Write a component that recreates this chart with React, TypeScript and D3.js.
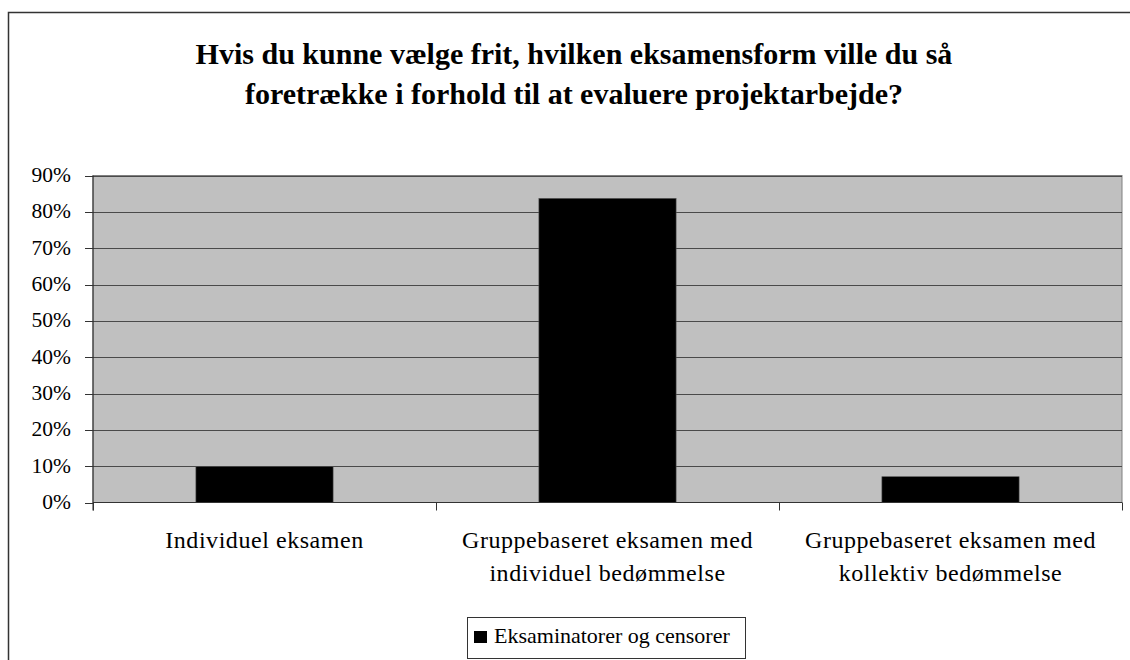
import React from "react";
import * as d3 from "d3";

const titleLines = [
  "Hvis du kunne vælge frit, hvilken eksamensform ville du så",
  "foretrække i forhold til at evaluere projektarbejde?",
];
const categories = [
  ["Individuel eksamen"],
  ["Gruppebaseret eksamen med", "individuel bedømmelse"],
  ["Gruppebaseret eksamen med", "kollektiv bedømmelse"],
];
const values = [0.099, 0.837, 0.071];
const yTicks = [0, 0.1, 0.2, 0.3, 0.4, 0.5, 0.6, 0.7, 0.8, 0.9];
const seriesName = "Eksaminatorer og censorer";

const FONT = "Liberation Serif, Tinos, Times New Roman, Times, DejaVu Serif, serif";

export default function App() {
  const W = 1130, H = 660;
  const left = 93, right = 1122, top = 175.5, bottom = 502.5;
  const x = d3.scaleBand<number>().domain(d3.range(categories.length)).range([left, right]).padding(0);
  const y = d3.scaleLinear().domain([0, 0.9]).range([bottom, top]);
  const bw = x.bandwidth() * 0.4;
  const fmt = d3.format(".0%");
  return (
    <svg width={W} height={H} style={{ position: "absolute", left: 0, top: 0, fontFamily: FONT }}>
      <rect x={0} y={0} width={W} height={H} fill="#fff" />
      <path d={`M8.5,${H} V12.5 H${W}`} fill="none" stroke="#333" strokeWidth={1.5} />
      {titleLines.map((t, i) => (
        <text key={i} x={574} y={64 + i * 40} textAnchor="middle" style={{ fontFamily: FONT }} fontWeight="bold" fontSize={30}>
          {t}
        </text>
      ))}
      <rect x={left} y={top} width={right - left} height={bottom - top} fill="#c0c0c0" stroke="#808080" strokeWidth={1} />
      {yTicks.slice(1).map((t) => (
        <line key={t} x1={left} x2={right} y1={Math.round(y(t)) + 0.5} y2={Math.round(y(t)) + 0.5} stroke="#4a4a4a" strokeWidth={1} />
      ))}
      {values.map((v, i) => (
        <rect key={i} x={x(i)! + (x.bandwidth() - bw) / 2} y={y(v)} width={bw} height={bottom - y(v)} fill="#000" stroke="#555" strokeWidth={0.6} />
      ))}
      <line x1={left} x2={right} y1={bottom} y2={bottom} stroke="#333" strokeWidth={1.2} />
      <line x1={left} x2={left} y1={top} y2={bottom + 8} stroke="#222" strokeWidth={1} />
      {yTicks.map((t) => (
        <g key={t}>
          <line x1={left - 8} x2={left} y1={Math.round(y(t)) + 0.5} y2={Math.round(y(t)) + 0.5} stroke="#333" />
          <text x={71} y={y(t) + 6.5} textAnchor="end" style={{ fontFamily: FONT }} fontSize={21.5}>{fmt(t)}</text>
        </g>
      ))}
      {d3.range(categories.length + 1).map((i) => {
        const xx = Math.round(left + i * x.bandwidth()) + 0.5;
        return <line key={i} x1={xx} x2={xx} y1={bottom} y2={bottom + 8} stroke="#333" />;
      })}
      {categories.map((lines, i) => (
        <text key={i} textAnchor="middle" style={{ fontFamily: FONT, letterSpacing: "0.55px" }} fontSize={24}>
          {lines.map((l, j) => (
            <tspan key={j} x={x(i)! + x.bandwidth() / 2} y={548 + j * 33}>{l}</tspan>
          ))}
        </text>
      ))}
      <rect x={467.5} y={617.5} width={278} height={41} fill="#fff" stroke="#333" strokeWidth={1} />
      <rect x={474} y={631} width={13} height={12} fill="#000" />
      <text x={494} y={643} style={{ fontFamily: FONT }} fontSize={22}>{seriesName}</text>
    </svg>
  );
}
